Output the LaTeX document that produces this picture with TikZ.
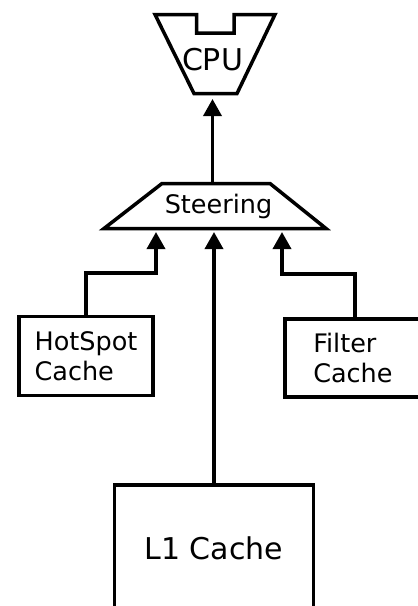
\documentclass[tikz,border=0pt]{standalone}
\usepackage{fontspec}
\setmainfont{DejaVu Sans}
\usetikzlibrary{arrows.meta}

\begin{document}
\begin{tikzpicture}[x=1pt,y=-1pt,line width=3.5pt,
  box/.style={draw,rectangle,line width=3.5pt,align=left},
  wire/.style={line width=3.5pt,-{Triangle[width=18pt,length=17pt]}},
  big/.style={font=\fontsize{30}{36}\selectfont},
  mid/.style={font=\fontsize{25.5}{30.5}\selectfont}]
\clip (0,0) rectangle (418,606);
% cpu
\draw (155,14.5) -- (196.5,14.5) -- (196.5,33) -- (234,33) -- (234,14.5) -- (275,14.5)
  -- (237,93.5) -- (194,93.5) -- cycle;
\node[big,anchor=base] (cpu) at (212.5,70) {CPU};
\coordinate (cpuin) at (212.5,99);
% steering
\draw (104,228.5) -- (162,183.5) -- (270,183.5) -- (326,228.5) -- cycle;
\node[mid,anchor=base] (steer) at (218.5,213) {Steering};
\coordinate (stop) at (212.5,183.5);
\coordinate (sin1) at (156,232);
\coordinate (sin2) at (214,232);
\coordinate (sin3) at (282,232);
% caches
\node[box,mid,minimum width=134pt,minimum height=79pt] (hot) at (86,356) {HotSpot\\Cache};
\node[box,mid,anchor=north west,inner xsep=28.5pt,text width=100pt,minimum height=78pt]
  (filt) at (283,317) {Filter\\Cache};
\node[box,big,anchor=north,minimum width=199pt,minimum height=128pt] (l1) at (214,483) {L1 Cache};
% connectors
\draw[wire] (stop) -- (cpuin);
\draw[wire] (hot.north) -- ++(0,-42) -| (sin1);
\draw[wire] ([xshift=72pt]filt.north west) -- ++(0,-43) -| (sin3);
\draw[wire] (l1.north) -- (sin2);
\end{tikzpicture}
\end{document}
